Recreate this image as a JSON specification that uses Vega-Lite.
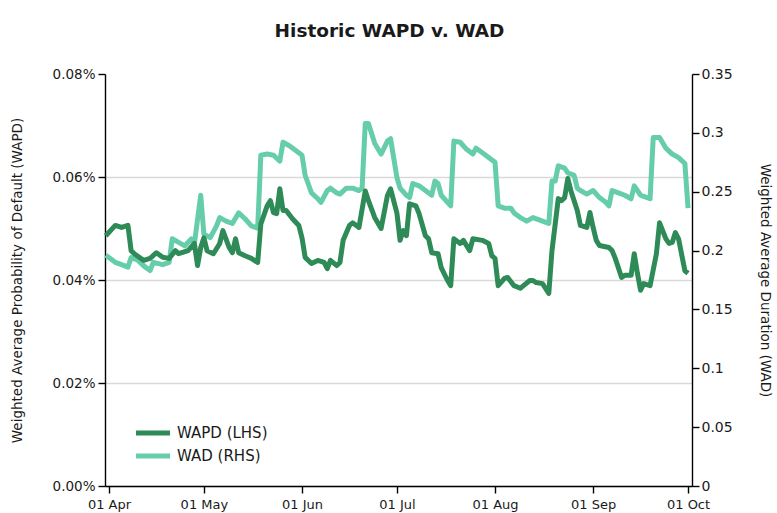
{
  "$schema": "https://vega.github.io/schema/vega-lite/v6.json",
  "width": 587,
  "height": 412,
  "autosize": {"type": "none"},
  "padding": {"left": 105, "top": 74, "right": 85, "bottom": 27},
  "background": "white",
  "config": {
    "font": "DejaVu Sans",
    "view": {"stroke": null},
    "axis": {"labelFont": "DejaVu Sans", "titleFont": "DejaVu Sans", "labelColor": "#1a1a1a", "titleColor": "#1a1a1a", "domainColor": "#000", "tickColor": "#000", "labelFontSize": 13, "titleFontSize": 13.5, "titleFontWeight": "normal", "domainWidth": 1.4, "tickWidth": 1.4, "tickSize": 7}
  },
  "title": {"text": "Historic WAPD v. WAD", "fontSize": 18.5, "fontWeight": "bold", "font": "DejaVu Sans", "color": "#1a1a1a", "offset": 27, "anchor": "middle", "dx": -9},
  "data": {"values": [
    {"d":"2014-03-31","s":"WAPD (LHS)","v":0.000486},{"d":"2014-04-03","s":"WAPD (LHS)","v":0.000506},{"d":"2014-04-05","s":"WAPD (LHS)","v":0.000502},{"d":"2014-04-07","s":"WAPD (LHS)","v":0.000506},{"d":"2014-04-08","s":"WAPD (LHS)","v":0.000457},{"d":"2014-04-09","s":"WAPD (LHS)","v":0.000451},{"d":"2014-04-12","s":"WAPD (LHS)","v":0.000438},{"d":"2014-04-14","s":"WAPD (LHS)","v":0.000442},{"d":"2014-04-16","s":"WAPD (LHS)","v":0.000453},{"d":"2014-04-18","s":"WAPD (LHS)","v":0.000444},{"d":"2014-04-20","s":"WAPD (LHS)","v":0.000442},{"d":"2014-04-22","s":"WAPD (LHS)","v":0.000457},{"d":"2014-04-23","s":"WAPD (LHS)","v":0.000451},{"d":"2014-04-26","s":"WAPD (LHS)","v":0.000457},{"d":"2014-04-28","s":"WAPD (LHS)","v":0.000471},{"d":"2014-04-29","s":"WAPD (LHS)","v":0.000428},{"d":"2014-04-30","s":"WAPD (LHS)","v":0.000463},
    {"d":"2014-05-01","s":"WAPD (LHS)","v":0.000482},{"d":"2014-05-02","s":"WAPD (LHS)","v":0.000457},{"d":"2014-05-04","s":"WAPD (LHS)","v":0.000451},{"d":"2014-05-06","s":"WAPD (LHS)","v":0.000471},{"d":"2014-05-07","s":"WAPD (LHS)","v":0.000496},{"d":"2014-05-09","s":"WAPD (LHS)","v":0.000463},{"d":"2014-05-10","s":"WAPD (LHS)","v":0.000453},{"d":"2014-05-11","s":"WAPD (LHS)","v":0.000480},{"d":"2014-05-12","s":"WAPD (LHS)","v":0.000453},{"d":"2014-05-14","s":"WAPD (LHS)","v":0.000447},{"d":"2014-05-16","s":"WAPD (LHS)","v":0.000442},{"d":"2014-05-18","s":"WAPD (LHS)","v":0.000434},{"d":"2014-05-19","s":"WAPD (LHS)","v":0.000509},{"d":"2014-05-21","s":"WAPD (LHS)","v":0.000544},{"d":"2014-05-22","s":"WAPD (LHS)","v":0.000554},{"d":"2014-05-23","s":"WAPD (LHS)","v":0.000531},{"d":"2014-05-24","s":"WAPD (LHS)","v":0.000529},{"d":"2014-05-25","s":"WAPD (LHS)","v":0.000577},{"d":"2014-05-26","s":"WAPD (LHS)","v":0.000535},{"d":"2014-05-27","s":"WAPD (LHS)","v":0.000535},{"d":"2014-05-29","s":"WAPD (LHS)","v":0.000519},{"d":"2014-05-31","s":"WAPD (LHS)","v":0.000506},
    {"d":"2014-06-01","s":"WAPD (LHS)","v":0.000482},{"d":"2014-06-02","s":"WAPD (LHS)","v":0.000444},{"d":"2014-06-04","s":"WAPD (LHS)","v":0.000432},{"d":"2014-06-06","s":"WAPD (LHS)","v":0.000438},{"d":"2014-06-08","s":"WAPD (LHS)","v":0.000434},{"d":"2014-06-09","s":"WAPD (LHS)","v":0.000422},{"d":"2014-06-10","s":"WAPD (LHS)","v":0.000438},{"d":"2014-06-12","s":"WAPD (LHS)","v":0.000428},{"d":"2014-06-13","s":"WAPD (LHS)","v":0.000434},{"d":"2014-06-14","s":"WAPD (LHS)","v":0.000477},{"d":"2014-06-16","s":"WAPD (LHS)","v":0.000506},{"d":"2014-06-17","s":"WAPD (LHS)","v":0.000511},{"d":"2014-06-19","s":"WAPD (LHS)","v":0.000502},{"d":"2014-06-21","s":"WAPD (LHS)","v":0.000573},{"d":"2014-06-22","s":"WAPD (LHS)","v":0.000554},{"d":"2014-06-24","s":"WAPD (LHS)","v":0.000521},{"d":"2014-06-26","s":"WAPD (LHS)","v":0.000500},{"d":"2014-06-28","s":"WAPD (LHS)","v":0.000564},{"d":"2014-06-29","s":"WAPD (LHS)","v":0.000577},
    {"d":"2014-07-01","s":"WAPD (LHS)","v":0.000530},{"d":"2014-07-02","s":"WAPD (LHS)","v":0.000477},{"d":"2014-07-03","s":"WAPD (LHS)","v":0.000496},{"d":"2014-07-04","s":"WAPD (LHS)","v":0.000486},{"d":"2014-07-05","s":"WAPD (LHS)","v":0.000548},{"d":"2014-07-07","s":"WAPD (LHS)","v":0.000544},{"d":"2014-07-08","s":"WAPD (LHS)","v":0.000529},{"d":"2014-07-10","s":"WAPD (LHS)","v":0.000486},{"d":"2014-07-11","s":"WAPD (LHS)","v":0.000480},{"d":"2014-07-12","s":"WAPD (LHS)","v":0.000453},{"d":"2014-07-14","s":"WAPD (LHS)","v":0.000451},{"d":"2014-07-15","s":"WAPD (LHS)","v":0.000424},{"d":"2014-07-17","s":"WAPD (LHS)","v":0.000399},{"d":"2014-07-18","s":"WAPD (LHS)","v":0.000389},{"d":"2014-07-19","s":"WAPD (LHS)","v":0.000480},{"d":"2014-07-21","s":"WAPD (LHS)","v":0.000471},{"d":"2014-07-22","s":"WAPD (LHS)","v":0.000477},{"d":"2014-07-24","s":"WAPD (LHS)","v":0.000457},{"d":"2014-07-25","s":"WAPD (LHS)","v":0.000480},{"d":"2014-07-28","s":"WAPD (LHS)","v":0.000477},{"d":"2014-07-30","s":"WAPD (LHS)","v":0.000471},{"d":"2014-07-31","s":"WAPD (LHS)","v":0.000447},
    {"d":"2014-08-01","s":"WAPD (LHS)","v":0.000442},{"d":"2014-08-02","s":"WAPD (LHS)","v":0.000389},{"d":"2014-08-04","s":"WAPD (LHS)","v":0.000403},{"d":"2014-08-05","s":"WAPD (LHS)","v":0.000405},{"d":"2014-08-07","s":"WAPD (LHS)","v":0.000389},{"d":"2014-08-09","s":"WAPD (LHS)","v":0.000384},{"d":"2014-08-10","s":"WAPD (LHS)","v":0.000389},{"d":"2014-08-12","s":"WAPD (LHS)","v":0.000399},{"d":"2014-08-13","s":"WAPD (LHS)","v":0.000399},{"d":"2014-08-14","s":"WAPD (LHS)","v":0.000395},{"d":"2014-08-16","s":"WAPD (LHS)","v":0.000393},{"d":"2014-08-18","s":"WAPD (LHS)","v":0.000374},{"d":"2014-08-19","s":"WAPD (LHS)","v":0.000457},{"d":"2014-08-21","s":"WAPD (LHS)","v":0.000558},{"d":"2014-08-22","s":"WAPD (LHS)","v":0.000554},{"d":"2014-08-23","s":"WAPD (LHS)","v":0.000560},{"d":"2014-08-24","s":"WAPD (LHS)","v":0.000597},{"d":"2014-08-25","s":"WAPD (LHS)","v":0.000573},{"d":"2014-08-27","s":"WAPD (LHS)","v":0.000535},{"d":"2014-08-28","s":"WAPD (LHS)","v":0.000506},{"d":"2014-08-30","s":"WAPD (LHS)","v":0.000502},{"d":"2014-08-31","s":"WAPD (LHS)","v":0.000531},
    {"d":"2014-09-01","s":"WAPD (LHS)","v":0.000502},{"d":"2014-09-02","s":"WAPD (LHS)","v":0.000477},{"d":"2014-09-03","s":"WAPD (LHS)","v":0.000467},{"d":"2014-09-06","s":"WAPD (LHS)","v":0.000463},{"d":"2014-09-07","s":"WAPD (LHS)","v":0.000457},{"d":"2014-09-08","s":"WAPD (LHS)","v":0.000442},{"d":"2014-09-10","s":"WAPD (LHS)","v":0.000405},{"d":"2014-09-11","s":"WAPD (LHS)","v":0.000409},{"d":"2014-09-13","s":"WAPD (LHS)","v":0.000409},{"d":"2014-09-14","s":"WAPD (LHS)","v":0.000451},{"d":"2014-09-15","s":"WAPD (LHS)","v":0.000413},{"d":"2014-09-16","s":"WAPD (LHS)","v":0.000380},{"d":"2014-09-17","s":"WAPD (LHS)","v":0.000393},{"d":"2014-09-19","s":"WAPD (LHS)","v":0.000389},{"d":"2014-09-21","s":"WAPD (LHS)","v":0.000451},{"d":"2014-09-22","s":"WAPD (LHS)","v":0.000511},{"d":"2014-09-24","s":"WAPD (LHS)","v":0.000480},{"d":"2014-09-25","s":"WAPD (LHS)","v":0.000471},{"d":"2014-09-26","s":"WAPD (LHS)","v":0.000473},{"d":"2014-09-27","s":"WAPD (LHS)","v":0.000492},{"d":"2014-09-28","s":"WAPD (LHS)","v":0.000480},{"d":"2014-09-30","s":"WAPD (LHS)","v":0.000418},{"d":"2014-10-01","s":"WAPD (LHS)","v":0.000413},

    {"d":"2014-03-31","s":"WAD (RHS)","v":0.196},{"d":"2014-04-03","s":"WAD (RHS)","v":0.190},{"d":"2014-04-05","s":"WAD (RHS)","v":0.188},{"d":"2014-04-07","s":"WAD (RHS)","v":0.186},{"d":"2014-04-08","s":"WAD (RHS)","v":0.194},{"d":"2014-04-10","s":"WAD (RHS)","v":0.192},{"d":"2014-04-12","s":"WAD (RHS)","v":0.187},{"d":"2014-04-14","s":"WAD (RHS)","v":0.183},{"d":"2014-04-15","s":"WAD (RHS)","v":0.190},{"d":"2014-04-18","s":"WAD (RHS)","v":0.188},{"d":"2014-04-20","s":"WAD (RHS)","v":0.190},{"d":"2014-04-21","s":"WAD (RHS)","v":0.210},{"d":"2014-04-23","s":"WAD (RHS)","v":0.207},{"d":"2014-04-25","s":"WAD (RHS)","v":0.204},{"d":"2014-04-27","s":"WAD (RHS)","v":0.210},{"d":"2014-04-28","s":"WAD (RHS)","v":0.206},{"d":"2014-04-30","s":"WAD (RHS)","v":0.247},
    {"d":"2014-05-01","s":"WAD (RHS)","v":0.214},{"d":"2014-05-03","s":"WAD (RHS)","v":0.211},{"d":"2014-05-05","s":"WAD (RHS)","v":0.221},{"d":"2014-05-06","s":"WAD (RHS)","v":0.228},{"d":"2014-05-08","s":"WAD (RHS)","v":0.225},{"d":"2014-05-10","s":"WAD (RHS)","v":0.223},{"d":"2014-05-12","s":"WAD (RHS)","v":0.232},{"d":"2014-05-14","s":"WAD (RHS)","v":0.227},{"d":"2014-05-16","s":"WAD (RHS)","v":0.221},{"d":"2014-05-18","s":"WAD (RHS)","v":0.219},{"d":"2014-05-19","s":"WAD (RHS)","v":0.281},{"d":"2014-05-21","s":"WAD (RHS)","v":0.282},{"d":"2014-05-23","s":"WAD (RHS)","v":0.281},{"d":"2014-05-25","s":"WAD (RHS)","v":0.276},{"d":"2014-05-26","s":"WAD (RHS)","v":0.292},{"d":"2014-05-28","s":"WAD (RHS)","v":0.289},{"d":"2014-05-31","s":"WAD (RHS)","v":0.283},
    {"d":"2014-06-01","s":"WAD (RHS)","v":0.281},{"d":"2014-06-02","s":"WAD (RHS)","v":0.264},{"d":"2014-06-04","s":"WAD (RHS)","v":0.249},{"d":"2014-06-06","s":"WAD (RHS)","v":0.244},{"d":"2014-06-07","s":"WAD (RHS)","v":0.241},{"d":"2014-06-09","s":"WAD (RHS)","v":0.251},{"d":"2014-06-10","s":"WAD (RHS)","v":0.253},{"d":"2014-06-12","s":"WAD (RHS)","v":0.249},{"d":"2014-06-13","s":"WAD (RHS)","v":0.248},{"d":"2014-06-15","s":"WAD (RHS)","v":0.253},{"d":"2014-06-17","s":"WAD (RHS)","v":0.253},{"d":"2014-06-19","s":"WAD (RHS)","v":0.251},{"d":"2014-06-20","s":"WAD (RHS)","v":0.253},{"d":"2014-06-21","s":"WAD (RHS)","v":0.308},{"d":"2014-06-22","s":"WAD (RHS)","v":0.308},{"d":"2014-06-24","s":"WAD (RHS)","v":0.291},{"d":"2014-06-26","s":"WAD (RHS)","v":0.282},{"d":"2014-06-28","s":"WAD (RHS)","v":0.293},{"d":"2014-06-29","s":"WAD (RHS)","v":0.295},
    {"d":"2014-07-01","s":"WAD (RHS)","v":0.262},{"d":"2014-07-02","s":"WAD (RHS)","v":0.253},{"d":"2014-07-04","s":"WAD (RHS)","v":0.247},{"d":"2014-07-05","s":"WAD (RHS)","v":0.245},{"d":"2014-07-06","s":"WAD (RHS)","v":0.257},{"d":"2014-07-08","s":"WAD (RHS)","v":0.255},{"d":"2014-07-10","s":"WAD (RHS)","v":0.251},{"d":"2014-07-12","s":"WAD (RHS)","v":0.247},{"d":"2014-07-13","s":"WAD (RHS)","v":0.259},{"d":"2014-07-14","s":"WAD (RHS)","v":0.257},{"d":"2014-07-15","s":"WAD (RHS)","v":0.247},{"d":"2014-07-17","s":"WAD (RHS)","v":0.241},{"d":"2014-07-18","s":"WAD (RHS)","v":0.238},{"d":"2014-07-19","s":"WAD (RHS)","v":0.293},{"d":"2014-07-21","s":"WAD (RHS)","v":0.292},{"d":"2014-07-23","s":"WAD (RHS)","v":0.286},{"d":"2014-07-25","s":"WAD (RHS)","v":0.282},{"d":"2014-07-26","s":"WAD (RHS)","v":0.287},{"d":"2014-07-28","s":"WAD (RHS)","v":0.283},{"d":"2014-07-30","s":"WAD (RHS)","v":0.279},
    {"d":"2014-08-01","s":"WAD (RHS)","v":0.275},{"d":"2014-08-02","s":"WAD (RHS)","v":0.238},{"d":"2014-08-04","s":"WAD (RHS)","v":0.236},{"d":"2014-08-06","s":"WAD (RHS)","v":0.236},{"d":"2014-08-07","s":"WAD (RHS)","v":0.232},{"d":"2014-08-09","s":"WAD (RHS)","v":0.228},{"d":"2014-08-11","s":"WAD (RHS)","v":0.225},{"d":"2014-08-13","s":"WAD (RHS)","v":0.228},{"d":"2014-08-16","s":"WAD (RHS)","v":0.225},{"d":"2014-08-18","s":"WAD (RHS)","v":0.223},{"d":"2014-08-19","s":"WAD (RHS)","v":0.259},{"d":"2014-08-20","s":"WAD (RHS)","v":0.259},{"d":"2014-08-21","s":"WAD (RHS)","v":0.272},{"d":"2014-08-23","s":"WAD (RHS)","v":0.270},{"d":"2014-08-24","s":"WAD (RHS)","v":0.266},{"d":"2014-08-26","s":"WAD (RHS)","v":0.264},{"d":"2014-08-27","s":"WAD (RHS)","v":0.253},{"d":"2014-08-28","s":"WAD (RHS)","v":0.251},{"d":"2014-08-30","s":"WAD (RHS)","v":0.248},
    {"d":"2014-09-01","s":"WAD (RHS)","v":0.251},{"d":"2014-09-03","s":"WAD (RHS)","v":0.245},{"d":"2014-09-05","s":"WAD (RHS)","v":0.241},{"d":"2014-09-06","s":"WAD (RHS)","v":0.238},{"d":"2014-09-07","s":"WAD (RHS)","v":0.251},{"d":"2014-09-09","s":"WAD (RHS)","v":0.249},{"d":"2014-09-11","s":"WAD (RHS)","v":0.247},{"d":"2014-09-13","s":"WAD (RHS)","v":0.244},{"d":"2014-09-14","s":"WAD (RHS)","v":0.255},{"d":"2014-09-16","s":"WAD (RHS)","v":0.247},{"d":"2014-09-17","s":"WAD (RHS)","v":0.246},{"d":"2014-09-19","s":"WAD (RHS)","v":0.244},{"d":"2014-09-20","s":"WAD (RHS)","v":0.296},{"d":"2014-09-22","s":"WAD (RHS)","v":0.296},{"d":"2014-09-24","s":"WAD (RHS)","v":0.287},{"d":"2014-09-26","s":"WAD (RHS)","v":0.282},{"d":"2014-09-28","s":"WAD (RHS)","v":0.279},{"d":"2014-09-30","s":"WAD (RHS)","v":0.274},{"d":"2014-10-01","s":"WAD (RHS)","v":0.236}
  ]},
  "encoding": {
    "x": {"field": "d", "type": "temporal", "title": null,
      "scale": {"type": "utc", "domain": [{"year": 2014, "month": 3, "date": 30, "hours": 18, "utc": true}, {"year": 2014, "month": 10, "date": 2, "hours": 6, "utc": true}]},
      "axis": {"format": "%d %b", "grid": false, "labelPadding": 5, "labelFlush": false, "labelOverlap": false,
        "values": [{"year": 2014, "month": 4, "date": 1, "utc": true}, {"year": 2014, "month": 5, "date": 1, "utc": true}, {"year": 2014, "month": 6, "date": 1, "utc": true}, {"year": 2014, "month": 7, "date": 1, "utc": true}, {"year": 2014, "month": 8, "date": 1, "utc": true}, {"year": 2014, "month": 9, "date": 1, "utc": true}, {"year": 2014, "month": 10, "date": 1, "utc": true}]}},
    "color": {"field": "s", "type": "nominal",
      "scale": {"domain": ["WAPD (LHS)", "WAD (RHS)"], "range": ["#2E8B57", "#66CDAA"]},
      "legend": {"title": null, "orient": "none", "legendX": 37, "legendY": 348, "symbolType": "M-2,0H2", "symbolSize": 289, "symbolStrokeWidth": 5, "labelFontSize": 15, "labelFont": "DejaVu Sans", "labelColor": "#1a1a1a", "rowPadding": 2, "labelOffset": 13}}
  },
  "layer": [
    {
      "transform": [{"filter": "datum.s == 'WAD (RHS)'"}],
      "mark": {"type": "line", "strokeWidth": 5, "strokeJoin": "round"},
      "encoding": {
        "y": {"field": "v", "type": "quantitative", "title": "Weighted Average Duration (WAD)",
          "scale": {"domain": [0, 0.35], "nice": false, "zero": true},
          "axis": {"orient": "right", "values": [0, 0.05, 0.1, 0.15, 0.2, 0.25, 0.3, 0.35], "format": ".2~f", "grid": false, "labelPadding": 2, "labelFontSize": 14, "titlePadding": 25}}
      }
    },
    {
      "transform": [{"filter": "datum.s == 'WAPD (LHS)'"}],
      "mark": {"type": "line", "strokeWidth": 5, "strokeJoin": "round"},
      "encoding": {
        "y": {"field": "v", "type": "quantitative", "title": "Weighted Average Probability of Default (WAPD)",
          "scale": {"domain": [0, 0.0008], "nice": false, "zero": true},
          "axis": {"orient": "left", "values": [0, 0.0002, 0.0004, 0.0006, 0.0008], "format": ".2%", "grid": true, "gridColor": "#d9d9d9", "gridWidth": 1.4,
            "gridOpacity": {"condition": {"test": "datum.value > 0.00079", "value": 0}, "value": 1},
            "labelPadding": 3, "labelFontSize": 13.5, "titlePadding": 28}}
      }
    }
  ],
  "resolve": {"scale": {"y": "independent"}}
}
